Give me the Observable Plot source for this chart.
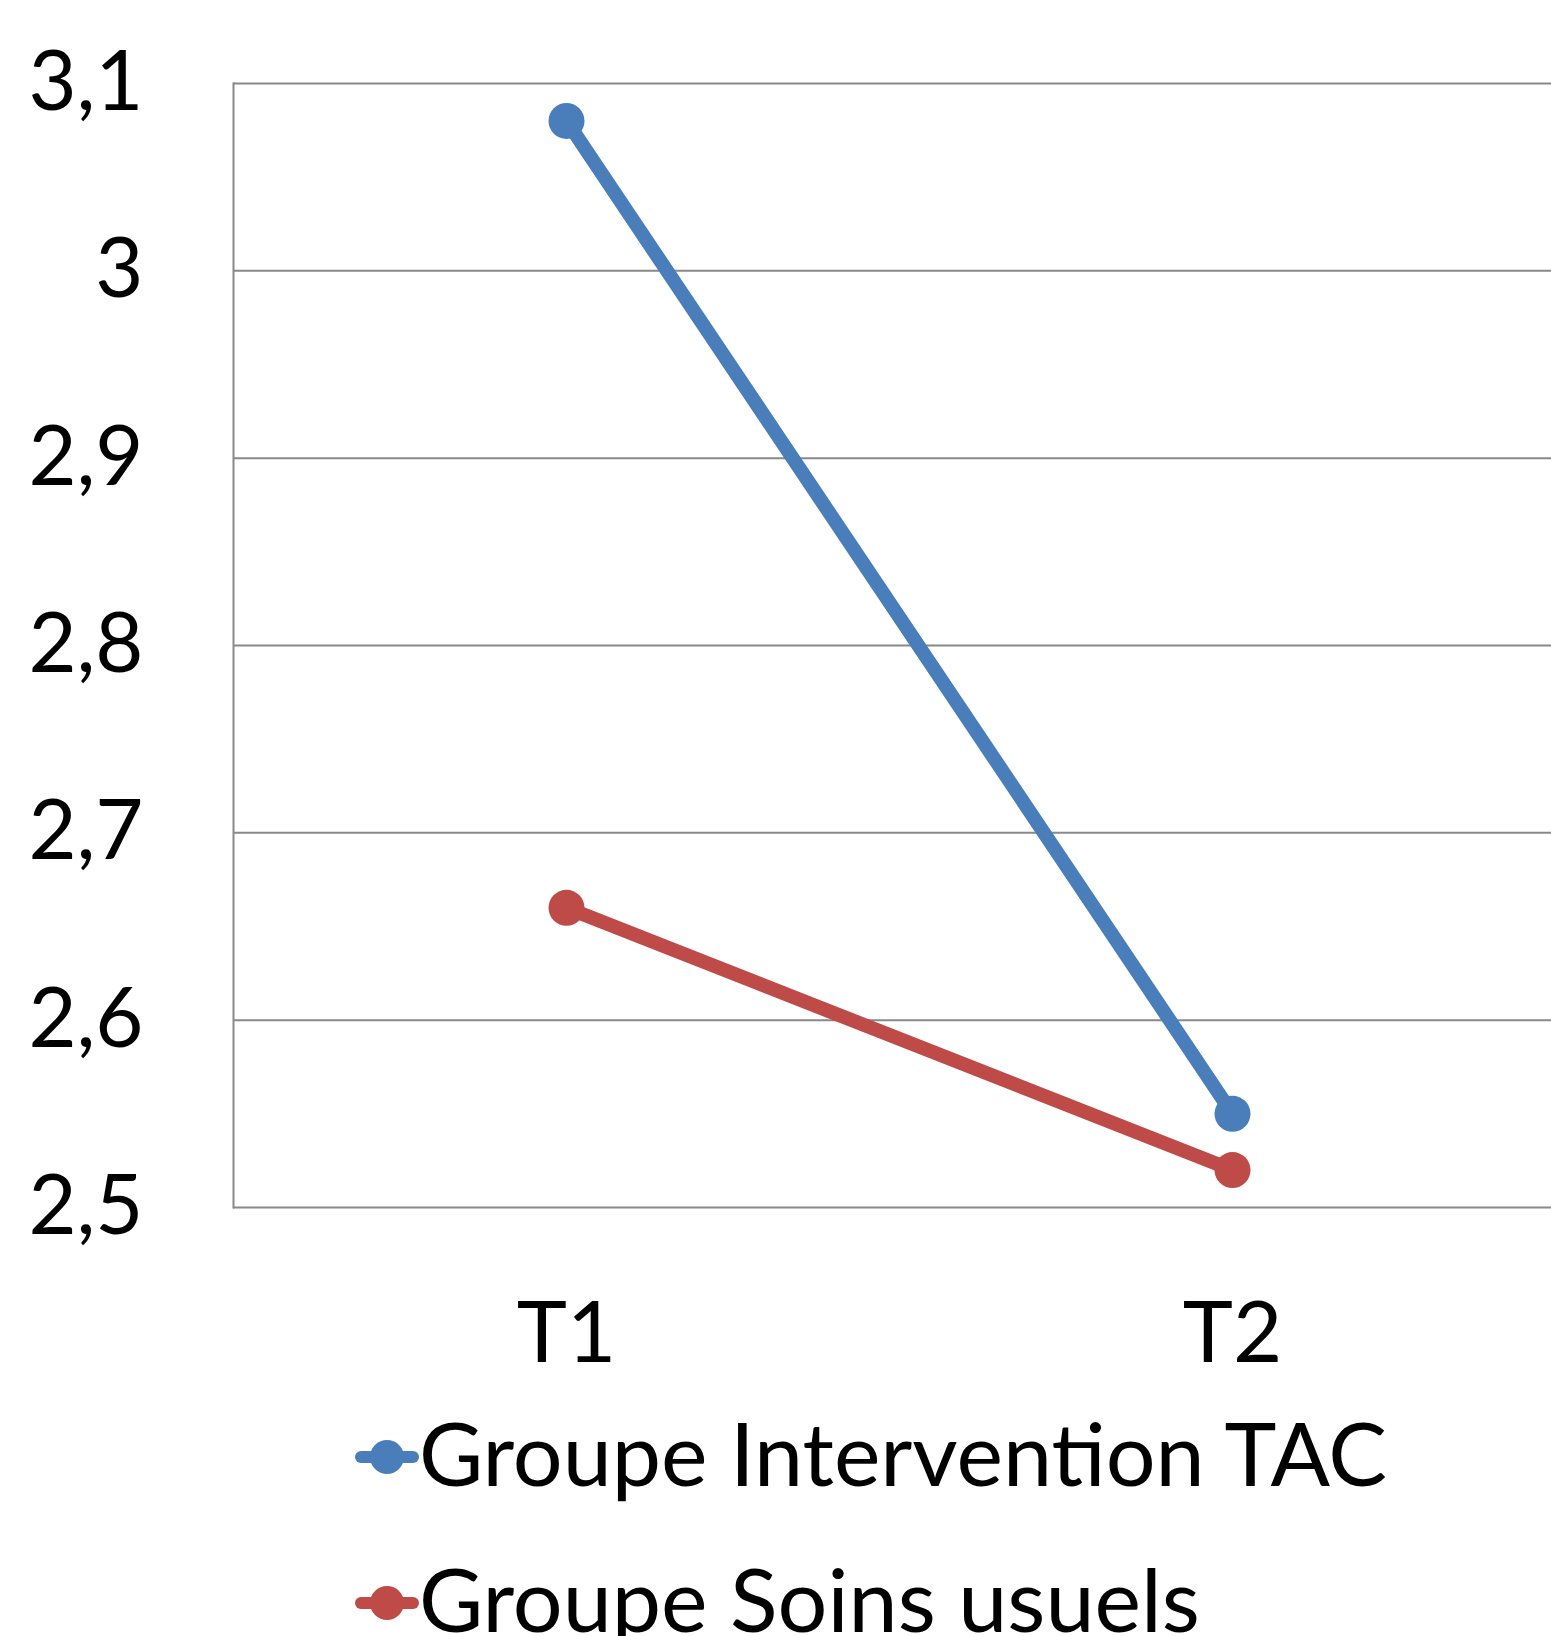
<!DOCTYPE html>
<html>
<head>
<meta charset="utf-8">
<script src="https://cdn.jsdelivr.net/npm/d3@7"></script>
<script src="https://cdn.jsdelivr.net/npm/@observablehq/plot@0.6"></script>
<style>
  html, body { margin: 0; padding: 0; background: #fff; overflow: hidden; }
  #chart { width: 1551px; }
  .legend { font-family: Lato, "Open Sans", sans-serif; font-size: 88px; color: #000; padding-left: 355px; }
  .legend .row { height: 146px; line-height: 146px; white-space: nowrap; }
  .legend svg { vertical-align: 9px; margin-right: 0px; }
</style>
</head>
<body>
<div id="chart"></div>
<div class="legend" id="legend"></div>
<script>
const categories = ["T1", "T2"];
const seriesNames = ["Groupe Intervention TAC", "Groupe Soins usuels"];
const interventionValues = [3.08, 2.55];
const soinsValues = [2.66, 2.52];
const seriesColors = ["#4A7EBB", "#BE4B48"];
const yTicks = [2.5, 2.6, 2.7, 2.8, 2.9, 3.0, 3.1];
const yTickLabels = ["2,5", "2,6", "2,7", "2,8", "2,9", "3", "3,1"];

const seriesValues = [interventionValues, soinsValues];
const data = seriesNames.flatMap((s, si) =>
  categories.map((c, ci) => ({series: s, time: c, value: seriesValues[si][ci]}))
);

const yFormat = d => yTickLabels[yTicks.findIndex(t => Math.abs(t - d) < 1e-9)];

const chart = Plot.plot({
  width: 1551,
  height: 1379,
  marginLeft: 233,
  marginTop: 83,
  marginRight: 0,
  marginBottom: 172,
  style: {fontFamily: "Lato, 'Open Sans', sans-serif", background: "white", color: "black"},
  x: {type: "point", domain: categories, padding: 0.5, range: [233, 1565]},
  y: {domain: [2.5, 3.1]},
  color: {domain: seriesNames, range: seriesColors},
  marks: [
    Plot.ruleY(yTicks, {stroke: "#898989", strokeWidth: 2}),
    Plot.frame({anchor: "left", stroke: "#898989", strokeWidth: 2}),
    Plot.axisY(yTicks, {tickSize: 0, tickPadding: 90, fontSize: 83, tickFormat: yFormat, label: null, fill: "black"}),
    Plot.axisX({tickSize: 0, tickPadding: 94, fontSize: 85, label: null, fill: "black"}),
    Plot.line(data, {x: "time", y: "value", z: "series", stroke: "series", strokeWidth: 14}),
    Plot.dot(data, {x: "time", y: "value", fill: "series", r: 18})
  ]
});
document.getElementById("chart").appendChild(chart);

const legend = document.getElementById("legend");
seriesNames.forEach((name, i) => {
  const row = document.createElement("div");
  row.className = "row";
  row.innerHTML = `<svg width="64" height="40" viewBox="0 0 64 40"><line x1="6" y1="20" x2="58" y2="20" stroke="${seriesColors[i]}" stroke-width="12" stroke-linecap="round"/><circle cx="32" cy="20" r="17" fill="${seriesColors[i]}"/></svg><span>${name}</span>`;
  legend.appendChild(row);
});
</script>
</body>
</html>
